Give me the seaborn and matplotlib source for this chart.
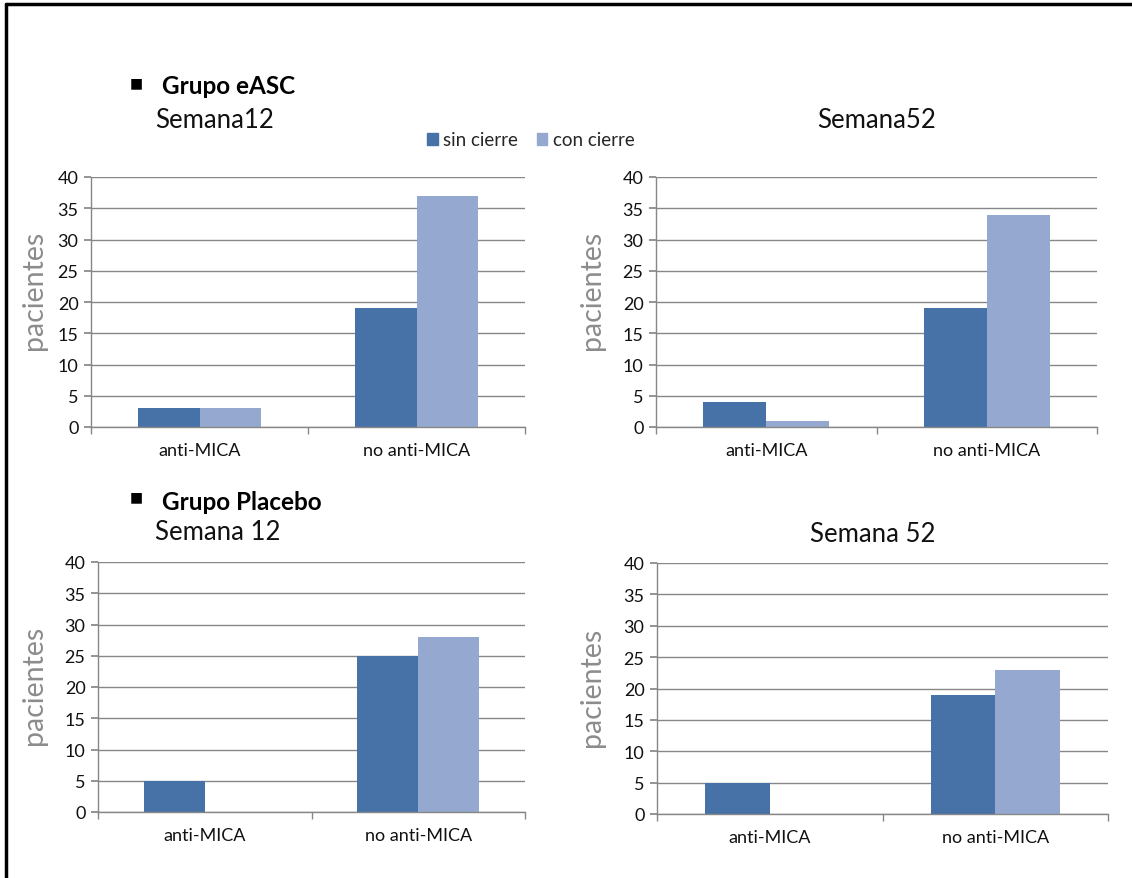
import matplotlib
matplotlib.use("Agg")
import matplotlib.pyplot as plt
from matplotlib.lines import Line2D
import numpy as np
import pandas as pd
import seaborn as sns

# Patient counts per panel: [anti-MICA, no anti-MICA]
categorias = ["anti-MICA", "no anti-MICA"]
series = ["sin cierre", "con cierre"]

easc_s12_sin = [3, 19]
easc_s12_con = [3, 37]
easc_s52_sin = [4, 19]
easc_s52_con = [1, 34]
plac_s12_sin = [5, 25]
plac_s12_con = [0, 28]
plac_s52_sin = [5, 19]
plac_s52_con = [0, 23]

titulos = ["Semana12", "Semana52", "Semana 12", "Semana 52"]
yticks = [0, 5, 10, 15, 20, 25, 30, 35, 40]

colores = {"sin cierre": "#4672A8", "con cierre": "#95A9D0"}

sns.set_theme(style="white")
plt.rcParams["font.family"] = ["Lato", "DejaVu Sans"]

W, H = 1132, 879
fig = plt.figure(figsize=(W / 100, H / 100), dpi=100)


def px_rect(x0, y0, x1, y1):
    return [x0 / W, 1 - y1 / H, (x1 - x0) / W, (y1 - y0) / H]


def frame(sin, con):
    return pd.DataFrame({
        "categoria": categorias * 2,
        "serie": [series[0]] * 2 + [series[1]] * 2,
        "pacientes": list(sin) + list(con),
    })


paneles = [
    (px_rect(91, 178, 525, 428), easc_s12_sin, easc_s12_con, -0.101, 0.55),
    (px_rect(656, 178, 1097, 428), easc_s52_sin, easc_s52_con, -0.116, 0.55),
    (px_rect(98, 563, 525, 813), plac_s12_sin, plac_s12_con, -0.119, 0.51),
    (px_rect(657, 564, 1108, 815), plac_s52_sin, plac_s52_con, -0.115, 0.51),
]

grid_c = "#878787"
for rect, sin, con, lx, ly in paneles:
    ax = fig.add_axes(rect)
    sns.barplot(data=frame(sin, con), x="categoria", y="pacientes", hue="serie",
                hue_order=series, order=categorias, palette=colores,
                width=0.57, saturation=1, ax=ax, legend=False, edgecolor="none")
    ax.set_xlim(-0.5, 1.5)
    ax.set_ylim(0, 40)
    ax.set_yticks(yticks)
    ax.yaxis.grid(True, color=grid_c, linewidth=1)
    ax.set_axisbelow(True)
    for s in ["top", "right"]:
        ax.spines[s].set_visible(False)
    for s in ["left", "bottom"]:
        ax.spines[s].set_color(grid_c)
        ax.spines[s].set_linewidth(1)
    ax.set_xticks([0, 1])
    ax.set_xticklabels(categorias)
    ax.set_xticks([-0.5, 0.5, 1.5], minor=True)
    ax.tick_params(axis="x", which="major", length=0, pad=11, labelsize=13,
                   labelcolor="#111111")
    ax.tick_params(axis="x", which="minor", length=5, color=grid_c, direction="out",
                   bottom=True)
    ax.tick_params(axis="y", length=5, color=grid_c, direction="out", left=True,
                   labelsize=13, labelcolor="#111111", pad=4)
    ax.set_xlabel("")
    ax.set_ylabel("pacientes", fontsize=20.5, color="#8C8C8C")
    ax.yaxis.set_label_coords(lx, ly)


def ftext(x, y, s, **kw):
    fig.text(x / W, 1 - y / H, s, va="center", **kw)


ftext(155, 121, titulos[0], ha="left", fontsize=18.5, color="#111111")
ftext(877, 121, titulos[1], ha="center", fontsize=18.5, color="#111111")
ftext(155, 533, titulos[2], ha="left", fontsize=18.5, color="#111111")
ftext(873, 534, titulos[3], ha="center", fontsize=18.5, color="#111111")

ftext(136, 83, "■", ha="center", fontsize=10, color="black", family=["DejaVu Sans"])
ftext(162, 87, "Grupo eASC", ha="left", fontsize=17.5, fontweight="bold", color="black")
ftext(136, 497, "■", ha="center", fontsize=10, color="black", family=["DejaVu Sans"])
ftext(162, 502, "Grupo Placebo", ha="left", fontsize=17.5, fontweight="bold", color="black")

# Shared legend above the first panel
handles = [plt.Rectangle((0, 0), 1, 1, color=colores[s]) for s in series]
fig.legend(handles, series, loc="center", bbox_to_anchor=(531 / W, 1 - 141 / H),
           ncol=2, frameon=False, fontsize=13.5, handlelength=0.55, handleheight=0.55,
           handletextpad=0.3, columnspacing=1.0, borderaxespad=0)

# Outer frame: top and left edges
fig.add_artist(Line2D([6 / W, 6 / W], [0, 1 - 5 / H], transform=fig.transFigure,
                      color="black", linewidth=2.5))
fig.add_artist(Line2D([6 / W, 1], [1 - 5 / H, 1 - 5 / H], transform=fig.transFigure,
                      color="black", linewidth=2.5))

fig.savefig("out.png", dpi=100)
